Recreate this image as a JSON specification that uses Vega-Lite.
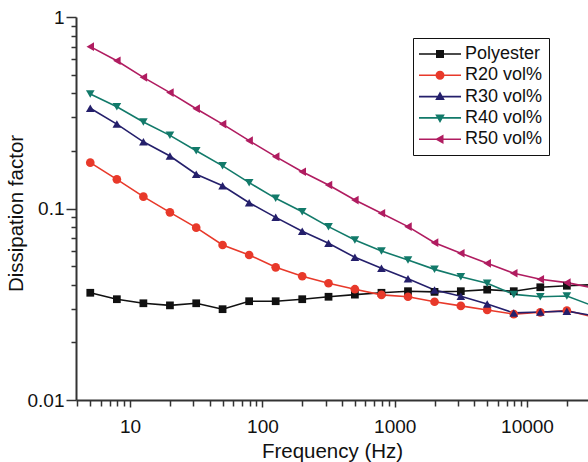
{
  "$schema": "https://vega.github.io/schema/vega-lite/v6.json",
  "width": 512,
  "height": 383,
  "autosize": {"type": "none"},
  "padding": {"left": 76, "top": 17, "right": 0, "bottom": 62},
  "background": "white",
  "config": {
    "view": {"stroke": null},
    "font": "Liberation Sans",
    "axis": {
      "domainColor": "#333333",
      "domainWidth": 2,
      "tickColor": "#333333",
      "tickWidth": 1.5,
      "grid": false,
      "labelFont": "Liberation Sans",
      "labelFontSize": 19,
      "labelColor": "#111111",
      "titleFont": "Liberation Sans",
      "titleFontSize": 20.5,
      "titleFontWeight": "normal",
      "titleColor": "#111111"
    },
    "legend": {
      "labelFont": "Liberation Sans",
      "labelFontSize": 18,
      "labelColor": "#111111"
    }
  },
  "data": {
    "values": [
      {"series": "Polyester", "f": 5, "d": 0.0363},
      {"series": "Polyester", "f": 7.94, "d": 0.0336},
      {"series": "Polyester", "f": 12.6, "d": 0.0320},
      {"series": "Polyester", "f": 20, "d": 0.0312},
      {"series": "Polyester", "f": 31.6, "d": 0.0320},
      {"series": "Polyester", "f": 50, "d": 0.0298},
      {"series": "Polyester", "f": 79.4, "d": 0.0328},
      {"series": "Polyester", "f": 126, "d": 0.0328},
      {"series": "Polyester", "f": 200, "d": 0.0336},
      {"series": "Polyester", "f": 316, "d": 0.0346},
      {"series": "Polyester", "f": 500, "d": 0.0355},
      {"series": "Polyester", "f": 794, "d": 0.0363},
      {"series": "Polyester", "f": 1260, "d": 0.0370},
      {"series": "Polyester", "f": 2000, "d": 0.0367},
      {"series": "Polyester", "f": 3160, "d": 0.0370},
      {"series": "Polyester", "f": 5000, "d": 0.0377},
      {"series": "Polyester", "f": 7940, "d": 0.0370},
      {"series": "Polyester", "f": 12600, "d": 0.0388},
      {"series": "Polyester", "f": 20000, "d": 0.0395},
      {"series": "Polyester", "f": 31600, "d": 0.0400},
      {"series": "R20 vol%", "f": 5, "d": 0.1735},
      {"series": "R20 vol%", "f": 7.94, "d": 0.142},
      {"series": "R20 vol%", "f": 12.6, "d": 0.1153},
      {"series": "R20 vol%", "f": 20, "d": 0.0955},
      {"series": "R20 vol%", "f": 31.6, "d": 0.0794},
      {"series": "R20 vol%", "f": 50, "d": 0.0645},
      {"series": "R20 vol%", "f": 79.4, "d": 0.0572},
      {"series": "R20 vol%", "f": 126, "d": 0.0493},
      {"series": "R20 vol%", "f": 200, "d": 0.0443},
      {"series": "R20 vol%", "f": 316, "d": 0.0407},
      {"series": "R20 vol%", "f": 500, "d": 0.0379},
      {"series": "R20 vol%", "f": 794, "d": 0.0354},
      {"series": "R20 vol%", "f": 1260, "d": 0.0346},
      {"series": "R20 vol%", "f": 2000, "d": 0.0326},
      {"series": "R20 vol%", "f": 3160, "d": 0.0310},
      {"series": "R20 vol%", "f": 5000, "d": 0.0295},
      {"series": "R20 vol%", "f": 7940, "d": 0.0281},
      {"series": "R20 vol%", "f": 12600, "d": 0.0287},
      {"series": "R20 vol%", "f": 20000, "d": 0.0293},
      {"series": "R20 vol%", "f": 31600, "d": 0.0272},
      {"series": "R30 vol%", "f": 5, "d": 0.334},
      {"series": "R30 vol%", "f": 7.94, "d": 0.276},
      {"series": "R30 vol%", "f": 12.6, "d": 0.223},
      {"series": "R30 vol%", "f": 20, "d": 0.188},
      {"series": "R30 vol%", "f": 31.6, "d": 0.151},
      {"series": "R30 vol%", "f": 50, "d": 0.1315},
      {"series": "R30 vol%", "f": 79.4, "d": 0.1072},
      {"series": "R30 vol%", "f": 126, "d": 0.0899},
      {"series": "R30 vol%", "f": 200, "d": 0.0760},
      {"series": "R30 vol%", "f": 316, "d": 0.0658},
      {"series": "R30 vol%", "f": 500, "d": 0.0556},
      {"series": "R30 vol%", "f": 794, "d": 0.0487},
      {"series": "R30 vol%", "f": 1260, "d": 0.0430},
      {"series": "R30 vol%", "f": 2000, "d": 0.0375},
      {"series": "R30 vol%", "f": 3160, "d": 0.0348},
      {"series": "R30 vol%", "f": 5000, "d": 0.0317},
      {"series": "R30 vol%", "f": 7940, "d": 0.0285},
      {"series": "R30 vol%", "f": 12600, "d": 0.0288},
      {"series": "R30 vol%", "f": 20000, "d": 0.0291},
      {"series": "R30 vol%", "f": 31600, "d": 0.0276},
      {"series": "R40 vol%", "f": 5, "d": 0.396},
      {"series": "R40 vol%", "f": 7.94, "d": 0.340},
      {"series": "R40 vol%", "f": 12.6, "d": 0.283},
      {"series": "R40 vol%", "f": 20, "d": 0.241},
      {"series": "R40 vol%", "f": 31.6, "d": 0.2004},
      {"series": "R40 vol%", "f": 50, "d": 0.167},
      {"series": "R40 vol%", "f": 79.4, "d": 0.1364},
      {"series": "R40 vol%", "f": 126, "d": 0.113},
      {"series": "R40 vol%", "f": 200, "d": 0.0962},
      {"series": "R40 vol%", "f": 316, "d": 0.0804},
      {"series": "R40 vol%", "f": 500, "d": 0.0685},
      {"series": "R40 vol%", "f": 794, "d": 0.0600},
      {"series": "R40 vol%", "f": 1260, "d": 0.0538},
      {"series": "R40 vol%", "f": 2000, "d": 0.0481},
      {"series": "R40 vol%", "f": 3160, "d": 0.0440},
      {"series": "R40 vol%", "f": 5000, "d": 0.0407},
      {"series": "R40 vol%", "f": 7940, "d": 0.0356},
      {"series": "R40 vol%", "f": 12600, "d": 0.0346},
      {"series": "R40 vol%", "f": 20000, "d": 0.0349},
      {"series": "R40 vol%", "f": 31600, "d": 0.0310},
      {"series": "R50 vol%", "f": 5, "d": 0.700},
      {"series": "R50 vol%", "f": 7.94, "d": 0.591},
      {"series": "R50 vol%", "f": 12.6, "d": 0.484},
      {"series": "R50 vol%", "f": 20, "d": 0.403},
      {"series": "R50 vol%", "f": 31.6, "d": 0.332},
      {"series": "R50 vol%", "f": 50, "d": 0.276},
      {"series": "R50 vol%", "f": 79.4, "d": 0.226},
      {"series": "R50 vol%", "f": 126, "d": 0.1865},
      {"series": "R50 vol%", "f": 200, "d": 0.1556},
      {"series": "R50 vol%", "f": 316, "d": 0.1327},
      {"series": "R50 vol%", "f": 500, "d": 0.1107},
      {"series": "R50 vol%", "f": 794, "d": 0.0944},
      {"series": "R50 vol%", "f": 1260, "d": 0.0804},
      {"series": "R50 vol%", "f": 2000, "d": 0.0663},
      {"series": "R50 vol%", "f": 3160, "d": 0.0584},
      {"series": "R50 vol%", "f": 5000, "d": 0.0517},
      {"series": "R50 vol%", "f": 7940, "d": 0.0459},
      {"series": "R50 vol%", "f": 12600, "d": 0.0427},
      {"series": "R50 vol%", "f": 20000, "d": 0.0410},
      {"series": "R50 vol%", "f": 31600, "d": 0.0385}
    ]
  },
  "encoding": {
    "x": {
      "field": "f", "type": "quantitative",
      "scale": {"type": "log", "domain": [3.9, 28900], "nice": false},
      "axis": {
        "title": "Frequency (Hz)",
        "values": [4,5,6,7,8,9,10,20,30,40,50,60,70,80,90,100,200,300,400,500,600,700,800,900,1000,2000,3000,4000,5000,6000,7000,8000,9000,10000,20000],
        "format": "d",
        "labelExpr": "indexof([10,100,1000,10000], datum.value) >= 0 ? datum.label : ''",
        "tickSize": {"condition": {"test": "indexof([10,100,1000,10000], datum.value) >= 0", "value": 7}, "value": 6},
        "labelPadding": 10,
        "titlePadding": 5
      }
    },
    "y": {
      "field": "d", "type": "quantitative",
      "scale": {"type": "log", "domain": [0.01, 1], "nice": false},
      "axis": {
        "title": "Dissipation factor",
        "values": [0.01,0.02,0.03,0.04,0.05,0.06,0.07,0.08,0.09,0.1,0.2,0.3,0.4,0.5,0.6,0.7,0.8,0.9,1],
        "labelExpr": "datum.value == 0.01 ? '0.01' : datum.value == 0.1 ? '0.1' : datum.value == 1 ? '1' : ''",
        "tickSize": {"condition": {"test": "datum.value == 0.01 || datum.value == 0.1 || datum.value == 1", "value": 10}, "value": 5},
        "labelPadding": 2,
        "titlePadding": 1,
        "titleY": 196
      }
    }
  },
  "layer": [
    {
      "mark": {"type": "rule", "color": "#333333", "strokeWidth": 2},
      "encoding": {"y": {"datum": 1}, "x": null},
      "data": {"values": [{}]}
    },
    {
      "mark": {"type": "line", "strokeWidth": 1.6, "clip": true},
      "encoding": {
        "detail": {"field": "series"},
        "color": {
          "field": "series", "type": "nominal",
          "scale": {
            "range": ["#111111", "#e8392a", "#241f6b", "#127a6a", "#b01c60"]
          },
          "legend": null
        }
      }
    },
    {
      "transform": [{"filter": {"field": "series", "equal": "Polyester"}}],
      "mark": {"type": "point", "shape": "square", "filled": true, "opacity": 1, "size": 60, "clip": true, "color": "#111111"}
    },
    {
      "transform": [{"filter": {"field": "series", "equal": "R20 vol%"}}],
      "mark": {"type": "point", "shape": "circle", "filled": true, "opacity": 1, "size": 75, "clip": true, "color": "#e8392a"}
    },
    {
      "transform": [{"filter": {"field": "series", "equal": "R30 vol%"}}],
      "mark": {"type": "point", "shape": "triangle-up", "filled": true, "opacity": 1, "size": 75, "clip": true, "color": "#241f6b"}
    },
    {
      "transform": [{"filter": {"field": "series", "equal": "R40 vol%"}}],
      "mark": {"type": "point", "shape": "triangle-down", "filled": true, "opacity": 1, "size": 75, "clip": true, "color": "#127a6a"}
    },
    {
      "transform": [{"filter": {"field": "series", "equal": "R50 vol%"}}],
      "mark": {"type": "point", "shape": "triangle-left", "filled": true, "opacity": 1, "size": 75, "clip": true, "color": "#b01c60"}
    },
    {
      "mark": {"type": "point", "filled": true, "opacity": 1, "size": 400},
      "encoding": {
        "x": {"field": "hidden", "type": "quantitative"},
        "fill": {
          "field": "series", "type": "nominal",
          "scale": {
            "domain": ["Polyester", "R20 vol%", "R30 vol%", "R40 vol%", "R50 vol%"],
            "range": ["#111111", "#e8392a", "#241f6b", "#127a6a", "#b01c60"]
          },
          "legend": {
            "title": null,
            "orient": "none",
            "legendX": 337,
            "legendY": 21,
            "padding": 6,
            "strokeColor": "#111111",
            "fillColor": "white",
            "symbolSize": 400,
            "symbolOpacity": 1,
            "symbolStrokeWidth": 0,
            "symbolOffset": 11,
            "labelOffset": 15,
            "rowPadding": 2.3
          }
        },
        "shape": {
          "field": "series", "type": "nominal",
          "scale": {
            "domain": ["Polyester", "R20 vol%", "R30 vol%", "R40 vol%", "R50 vol%"],
            "range": [
              "M-2.1,-0.08H2.1V0.08H-2.1Z M-0.4,-0.4H0.4V0.4H-0.4Z",
              "M-2.1,-0.08H2.1V0.08H-2.1Z M-0.45,0A0.45,0.45 0 1,1 0.45,0A0.45,0.45 0 1,1 -0.45,0Z",
              "M-2.1,-0.08H2.1V0.08H-2.1Z M0,-0.5L0.48,0.35L-0.48,0.35Z",
              "M-2.1,-0.08H2.1V0.08H-2.1Z M-0.48,-0.35L0.48,-0.35L0,0.5Z",
              "M-2.1,-0.08H2.1V0.08H-2.1Z M-0.5,0L0.35,-0.48L0.35,0.48Z"
            ]
          },
          "legend": {
            "title": null,
            "orient": "none",
            "legendX": 337,
            "legendY": 21,
            "padding": 6,
            "strokeColor": "#111111",
            "fillColor": "white",
            "symbolSize": 400,
            "symbolOpacity": 1,
            "symbolStrokeWidth": 0,
            "symbolOffset": 11,
            "labelOffset": 15,
            "rowPadding": 2.3
          }
        }
      }
    }
  ]
}
